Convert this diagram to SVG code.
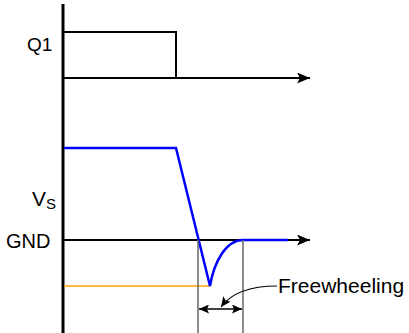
<svg xmlns="http://www.w3.org/2000/svg" width="409" height="333" viewBox="0 0 409 333">
<defs>
<style>
.lbl{font-family:"Liberation Sans",Arial,sans-serif;fill:#000}
.blk{stroke:#000;fill:none}
.grey{stroke:#666;stroke-width:1.5;fill:none}
.blue{stroke:#0000ff;stroke-width:2.5;fill:none;stroke-linejoin:miter}
</style>
<marker id="ah" markerWidth="13" markerHeight="11" refX="13" refY="5.5" orient="auto" markerUnits="userSpaceOnUse">
<path d="M0,0 L13,5.5 L0,11 L3,5.5 Z" fill="#000"/>
</marker>
<marker id="sh" markerWidth="10" markerHeight="9" refX="10" refY="4.5" orient="auto-start-reverse" markerUnits="userSpaceOnUse">
<path d="M0,0 L10,4.5 L0,9 L2,4.5 Z" fill="#000"/>
</marker>
</defs>
<rect width="409" height="333" fill="#fff"/>
<g id="axes">
<line class="blk" x1="63" y1="4" x2="63" y2="333" stroke-width="3"/>
<line class="blk" x1="63" y1="78" x2="310" y2="78" stroke-width="2" marker-end="url(#ah)"/>
<line class="blk" x1="63" y1="240" x2="310" y2="240" stroke-width="2" marker-end="url(#ah)"/>
</g>
<g id="q1-wave">
<polyline class="blk" stroke-width="2" points="64,32 176,32 176,78"/>
</g>
<g id="orange-level">
<line x1="64" y1="286" x2="210" y2="286" stroke="#ffa500" stroke-width="1.5"/>
</g>
<g id="vs-wave">
<path class="blue" d="M64,148 L176,148 L210,286 C214,262 226,240 243,240 L288,240"/>
</g>
<g id="connectors">
<line class="grey" x1="198" y1="240" x2="198" y2="333"/>
<line class="grey" x1="243" y1="240" x2="243" y2="333"/>
<line class="blk" stroke-width="1.5" x1="199" y1="309" x2="242" y2="309" marker-start="url(#sh)" marker-end="url(#sh)"/>
<path class="blk" stroke-width="1.2" d="M277,286 C252,286 232,292 221,307" marker-end="url(#sh)"/>
</g>
<g id="labels">
<text class="lbl" x="27" y="51" font-size="19">Q1</text>
<text class="lbl" x="32" y="206" font-size="21">V<tspan font-size="15" dy="3">S</tspan></text>
<text class="lbl" x="6" y="248" font-size="20">GND</text>
<text class="lbl" x="278" y="293" font-size="21">Freewheeling</text>
</g>
</svg>
